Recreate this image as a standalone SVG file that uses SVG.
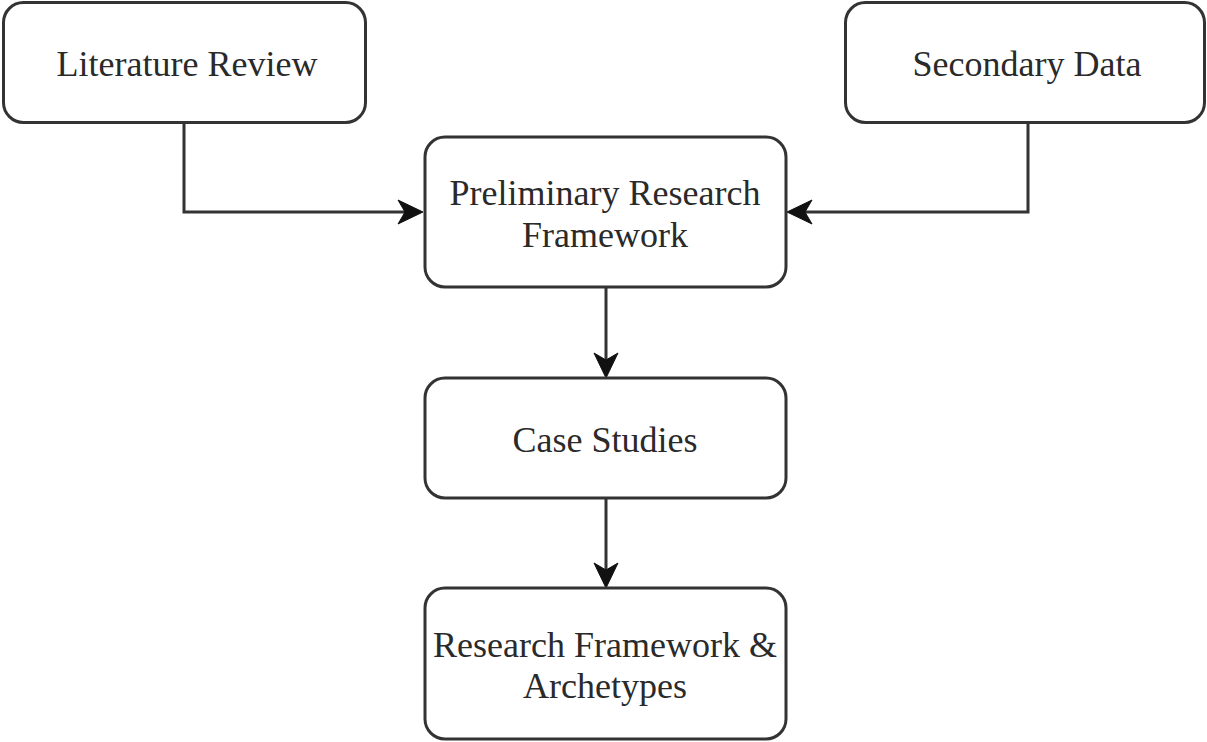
<svg xmlns="http://www.w3.org/2000/svg" width="1207" height="742" viewBox="0 0 1207 742">
<style>
.box{fill:#fff;stroke:#333;stroke-width:3}
.lbl{font-family:'Liberation Serif','Times New Roman',Times,serif;font-size:36px;fill:#2a2a2a;text-anchor:middle}
.con{fill:none;stroke:#333;stroke-width:3}
.head{fill:#111;stroke:#111;stroke-width:1}
</style>
<rect width="1207" height="742" fill="#fff"/>
<g id="connectors">
<path class="con" d="M184,123 V212 H405"/>
<polygon class="head" points="423,212 398,200 405,212 398,224"/>
<path class="con" d="M1028,123 V212 H805"/>
<polygon class="head" points="787,212 812,200 805,212 812,224"/>
<path class="con" d="M606,287 V360"/>
<polygon class="head" points="606,378 594,353 606,360 618,353"/>
<path class="con" d="M606,498 V570"/>
<polygon class="head" points="606,588 594,563 606,570 618,563"/>
</g>
<g id="literature-review">
<rect class="box" x="3.5" y="2.5" width="362" height="120" rx="20"/>
<text class="lbl" x="187" y="76">Literature Review</text>
</g>
<g id="secondary-data">
<rect class="box" x="845.5" y="2.5" width="359" height="120" rx="20"/>
<text class="lbl" x="1027" y="76">Secondary Data</text>
</g>
<g id="preliminary-research-framework">
<rect class="box" x="425" y="137" width="361" height="150" rx="20"/>
<text class="lbl" x="605" y="205">Preliminary Research</text>
<text class="lbl" x="605" y="247">Framework</text>
</g>
<g id="case-studies">
<rect class="box" x="425" y="378" width="361" height="120" rx="20"/>
<text class="lbl" x="605" y="452">Case Studies</text>
</g>
<g id="research-framework-archetypes">
<rect class="box" x="425" y="588" width="361" height="151" rx="20"/>
<text class="lbl" x="605" y="657">Research Framework &amp;</text>
<text class="lbl" x="605" y="698">Archetypes</text>
</g>
</svg>
